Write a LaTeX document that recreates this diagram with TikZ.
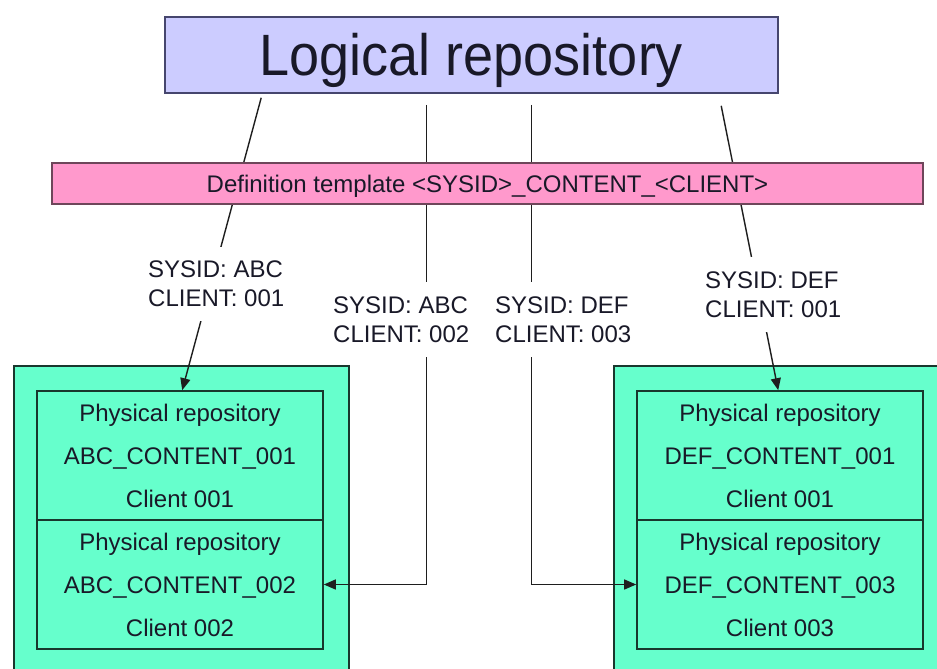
\documentclass[tikz,border=0pt]{standalone}
\usepackage{fontspec}
\setmainfont{Liberation Sans}
\usetikzlibrary{arrows.meta,calc}
\definecolor{lavfill}{RGB}{204,204,255}
\definecolor{lavline}{RGB}{70,70,110}
\definecolor{pinkfill}{RGB}{255,153,204}
\definecolor{pinkline}{RGB}{110,70,90}
\definecolor{greenfill}{RGB}{102,255,204}
\definecolor{greenline}{RGB}{25,55,45}
\definecolor{inkcol}{RGB}{25,25,40}
\definecolor{conncol}{RGB}{30,30,30}
\begin{document}
\begin{tikzpicture}[x=1pt,y=-1pt,
  conn/.style={line width=1.4pt, draw=conncol},
  tip/.style={-{Triangle[length=12pt,width=10pt]}},
  outerbox/.style={draw=greenline, line width=1.6pt, fill=greenfill, anchor=north west, inner sep=0pt},
  repo/.style={draw=greenline, line width=1.6pt, fill=greenfill, minimum width=286pt, minimum height=129pt, inner sep=0pt, align=center, text=inkcol, font=\fontsize{24}{43}\selectfont},
  lbl/.style={fill=white, align=left, inner xsep=4pt, inner ysep=14.5pt, anchor=west, text=inkcol, font=\fontsize{24}{29}\selectfont}
]
\path[use as bounding box, fill=white] (0,0) rectangle (937,669);
\clip (0,0) rectangle (937,669);

% outer containers
\node[outerbox, minimum width=335pt, minimum height=330pt] (outL) at (13,365) {};
\node[outerbox, minimum width=350pt, minimum height=330pt] (outR) at (613,365) {};

% physical repositories
\node[repo] (a1) at (180,455.5) {Physical repository\\ABC\_CONTENT\_001\\Client 001};
\node[repo] (a2) at (180,584.5) {Physical repository\\ABC\_CONTENT\_002\\Client 002};
\node[repo] (d1) at (780,455.5) {Physical repository\\DEF\_CONTENT\_001\\Client 001};
\node[repo] (d2) at (780,584.5) {Physical repository\\DEF\_CONTENT\_003\\Client 003};

% logical repository
\node[draw=lavline, line width=1.6pt, fill=lavfill, minimum width=613pt, minimum height=76pt,
      inner sep=0pt, text height=41pt, text depth=0pt, text=inkcol,
      font=\fontsize{54}{60}\selectfont] (logical) at (471.5,55) {\scalebox{1}[1.08]{Logical repository}};

% connector end points
\coordinate (s1) at ($(logical.south west)+(97,4)$);
\coordinate (s2) at ($(logical.south west)+(262,11)$);
\coordinate (s3) at ($(logical.south west)+(367,11)$);
\coordinate (s4) at ($(logical.south west)+(557,12)$);
\coordinate (t1) at ($(a1.north west)+(146,0)$);
\coordinate (t4) at ($(d1.north west)+(142,0)$);

% connectors
\draw[conn,tip] (s1) -- (t1);
\draw[conn,tip] (s2) |- (a2.east);
\draw[conn,tip] (s3) |- (d2.west);
\draw[conn,tip] (s4) -- (t4);

% definition template bar
\node[draw=pinkline, line width=1.6pt, fill=pinkfill, minimum width=871pt, minimum height=41pt,
      inner sep=0pt, text height=17.2pt, text depth=0pt, text=inkcol,
      font=\fontsize{24}{29}\selectfont] (tmpl) at (487.5,183.5) {Definition template <SYSID>\_CONTENT\_<CLIENT>};

% labels
\node[lbl] (l1) at (144,284) {SYSID: ABC\\CLIENT: 001};
\node[lbl] (l2) at (329,319.5) {SYSID: ABC\\CLIENT: 002};
\node[lbl] (l3) at (491,319.5) {SYSID: DEF\\CLIENT: 003};
\node[lbl] (l4) at (701,294.5) {SYSID: DEF\\CLIENT: 001};
\end{tikzpicture}
\end{document}
